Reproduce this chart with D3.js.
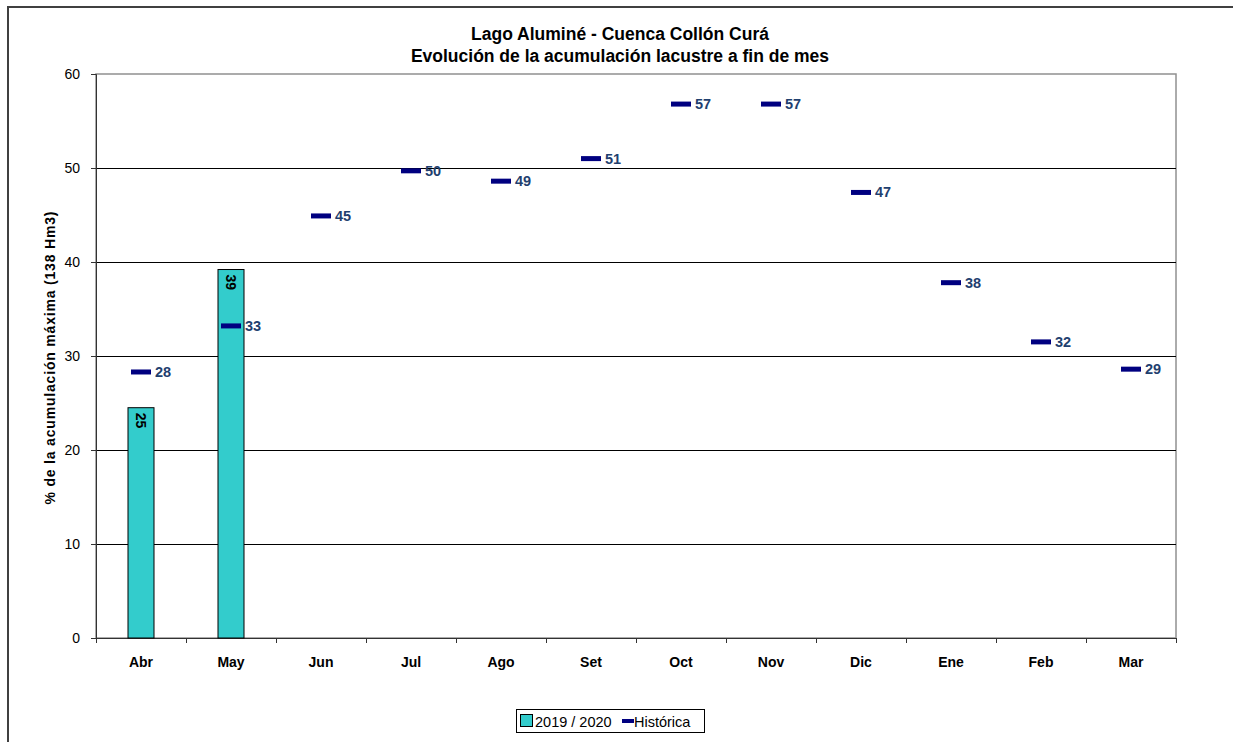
<!DOCTYPE html>
<html><head><meta charset="utf-8">
<script src="https://cdn.jsdelivr.net/npm/d3@7"></script>
<style>body{margin:0;background:#fff;} svg{display:block;font-family:"Liberation Sans",Arial,sans-serif;}</style>
</head><body><svg id="c" width="1233" height="742"></svg>
<script>
const months = ["Abr","May","Jun","Jul","Ago","Set","Oct","Nov","Dic","Ene","Feb","Mar"];
const current = [24.5, 39.2, null, null, null, null, null, null, null, null, null, null];
const currentLabels = ["25","39"];
const historic = [28.3, 33.2, 44.9, 49.7, 48.6, 51.0, 56.8, 56.8, 47.4, 37.8, 31.5, 28.6];
const historicLabels = ["28","33","45","50","49","51","57","57","47","38","32","29"];
const yTicks = [0,10,20,30,40,50,60];

const svg = d3.select("#c");
const L=96, R=1176, T=74, B=638;
const x = d3.scaleBand().domain(months).range([L,R]);
const y = d3.scaleLinear().domain([0,60]).range([B,T]);

// outer border
svg.append("rect").attr("x",8).attr("y",7).attr("width",1240).attr("height",760)
  .attr("fill","none").attr("stroke","#404040").attr("stroke-width",2);

// plot border (grey)
svg.append("rect").attr("x",L).attr("y",T).attr("width",R-L).attr("height",B-T)
  .attr("fill","none").attr("stroke","#909090").attr("stroke-width",1.5);

// gridlines
svg.append("g").selectAll("line").data(yTicks.filter(d=>d>0 && d<60)).join("line")
  .attr("x1",L).attr("x2",R).attr("y1",d=>Math.round(y(d))+0.5).attr("y2",d=>Math.round(y(d))+0.5)
  .attr("stroke","#000").attr("stroke-width",1);

// y axis
const ya = svg.append("g").attr("transform",`translate(${L},0)`)
  .call(d3.axisLeft(y).tickValues(yTicks).tickSize(5).tickPadding(11));
ya.select(".domain").attr("stroke","#333");
ya.selectAll(".tick line").attr("stroke","#333");
ya.selectAll("text").attr("font-size",14).attr("fill","#000").attr("font-family","Liberation Sans, Arial");

// x axis
svg.append("line").attr("x1",L).attr("x2",R).attr("y1",B+0.5).attr("y2",B+0.5).attr("stroke","#333");
svg.append("g").selectAll("line").data(d3.range(months.length+1)).join("line")
  .attr("x1",i=>L+i*x.step()+0.5).attr("x2",i=>L+i*x.step()+0.5).attr("y1",B).attr("y2",B+5).attr("stroke","#333");
svg.append("g").selectAll("text").data(months).join("text")
  .attr("x",d=>x(d)+x.bandwidth()/2).attr("y",B+29).attr("text-anchor","middle")
  .attr("font-size",14).attr("font-weight","bold").text(d=>d);

// bars
const bw = 26;
const barData = months.map((m,i)=>({m,v:current[i],lab:currentLabels[i]})).filter(d=>d.v!=null);
svg.append("g").selectAll("rect").data(barData).join("rect")
  .attr("x",d=>x(d.m)+x.bandwidth()/2-bw/2).attr("width",bw)
  .attr("y",d=>y(d.v)).attr("height",d=>B-y(d.v))
  .attr("fill","#33CCCC").attr("stroke","#000").attr("stroke-width",1);
svg.append("g").selectAll("text").data(barData).join("text")
  .attr("transform",d=>`translate(${x(d.m)+x.bandwidth()/2-5},${y(d.v)+5}) rotate(90)`)
  .attr("font-size",14).attr("font-weight","bold").attr("fill","#000").text(d=>d.lab);

// historic markers
const hd = months.map((m,i)=>({m,v:historic[i],lab:historicLabels[i]}));
svg.append("g").selectAll("rect").data(hd).join("rect")
  .attr("x",d=>x(d.m)+x.bandwidth()/2-10).attr("width",20)
  .attr("y",d=>y(d.v)-2.5).attr("height",5).attr("fill","#000080");
svg.append("g").selectAll("text").data(hd).join("text")
  .attr("x",d=>x(d.m)+x.bandwidth()/2+14).attr("y",d=>y(d.v)+5)
  .attr("font-size",14.5).attr("font-weight","bold").attr("fill","#1F3F6F").text(d=>d.lab);

// titles
svg.append("text").attr("x",620).attr("y",40).attr("text-anchor","middle")
  .attr("font-size",17.5).attr("font-weight","bold").text("Lago Aluminé - Cuenca Collón Curá");
svg.append("text").attr("x",620).attr("y",62).attr("text-anchor","middle")
  .attr("font-size",17.5).attr("font-weight","bold").text("Evolución de la acumulación lacustre a fin de mes");

// y axis title
svg.append("text").attr("transform","translate(55,358) rotate(-90)").attr("text-anchor","middle")
  .attr("font-size",14).attr("font-weight","bold")
  .attr("textLength",293).attr("lengthAdjust","spacing")
  .text("% de la acumulación máxima (138 Hm3)");

// legend
const lg = svg.append("g");
lg.append("rect").attr("x",516.5).attr("y",709.5).attr("width",188).attr("height",23)
  .attr("fill","#fff").attr("stroke","#000");
lg.append("rect").attr("x",520.5).attr("y",714.5).attr("width",12).attr("height",12)
  .attr("fill","#33CCCC").attr("stroke","#000");
lg.append("text").attr("x",535).attr("y",727).attr("font-size",14.5).text("2019 / 2020");
lg.append("rect").attr("x",622).attr("y",719).attr("width",12).attr("height",4).attr("fill","#000080");
lg.append("text").attr("x",634).attr("y",727).attr("font-size",14.5).text("Histórica");
</script></body></html>
